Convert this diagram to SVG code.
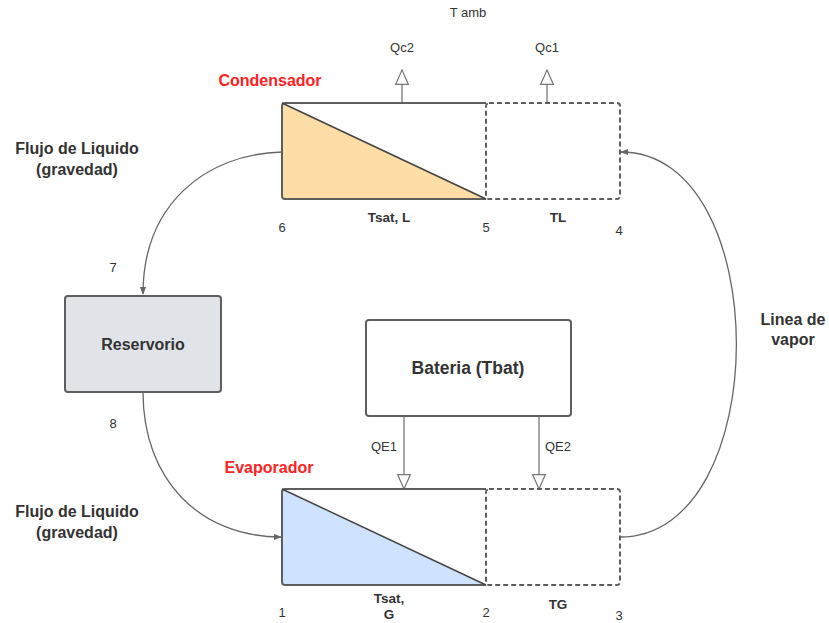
<svg xmlns="http://www.w3.org/2000/svg" width="829" height="623" viewBox="0 0 829 623">
<defs>
<style>
text{font-family:"Liberation Sans",Arial,sans-serif;fill:#333;text-anchor:middle}
.b{font-weight:bold}
.lbl{font-size:16px;font-weight:bold}
.num{font-size:13px}
.red{fill:#f22;font-size:16px;font-weight:bold}
.box{stroke:#5e5e5e;stroke-width:2}
.dash{fill:none;stroke:#5e5e5e;stroke-width:2;stroke-dasharray:5,3}
.con{fill:none;stroke:#666;stroke-width:1.3}
.q{fill:none;stroke:#777;stroke-width:1.3}
</style>
<marker id="ah" viewBox="0 0 10 10" refX="9" refY="5" markerWidth="8" markerHeight="8" markerUnits="userSpaceOnUse" orient="auto"><path d="M0,1 L10,5 L0,9 Z" fill="#666"/></marker>
<marker id="hol" viewBox="0 0 20 20" refX="19" refY="10" markerWidth="16" markerHeight="16" markerUnits="userSpaceOnUse" orient="auto"><path d="M1,2 L19,10 L1,18 Z" fill="#fff" stroke="#777" stroke-width="1.5"/></marker>
</defs>
<rect width="829" height="623" fill="#fff"/>
<g id="connectors">
<path class="con" d="M282,152 C205,154 143,205 143,294" marker-end="url(#ah)"/>
<path class="con" d="M143,392 C143,480 200,537 281,537" marker-end="url(#ah)"/>
<path class="con" d="M620,537 C775,537 775,152 621,152" marker-end="url(#ah)"/>
<path class="q" d="M402,103 V70" marker-end="url(#hol)"/>
<path class="q" d="M547,103 V70" marker-end="url(#hol)"/>
<path class="q" d="M404,416 V489" marker-end="url(#hol)"/>
<path class="q" d="M539,416 V489" marker-end="url(#hol)"/>
</g>
<g id="condensador">
<rect x="282" y="103" width="338" height="96" rx="3" fill="#fff" stroke="none"/>
<path d="M282,103 L486,198 L282,198 Z" fill="#ffdda6"/>
<rect class="dash" x="486" y="103" width="134" height="96" rx="3"/>
<path class="box" fill="none" d="M486,103 H285 Q282,103 282,106 V196 Q282,199 285,199 H486"/>
<line x1="282" y1="103" x2="486" y2="199" stroke="#444" stroke-width="1.5"/>
<text class="red" x="270" y="86">Condensador</text>
<text class="b" x="389" y="222" font-size="13.5">Tsat, L</text>
<text class="b" x="558" y="222" font-size="13.5">TL</text>
</g>
<g id="evaporador">
<rect x="282" y="489" width="338" height="96" rx="3" fill="#fff" stroke="none"/>
<path d="M282,489 L486,585 L282,585 Z" fill="#cfe2ff"/>
<rect class="dash" x="486" y="489" width="134" height="96" rx="3"/>
<path class="box" fill="none" d="M486,489 H285 Q282,489 282,492 V582 Q282,585 285,585 H486"/>
<line x1="282" y1="489" x2="486" y2="585" stroke="#444" stroke-width="1.5"/>
<text class="red" x="269" y="473">Evaporador</text>
<text class="b" x="389" y="603" font-size="13.5">Tsat,</text>
<text class="b" x="389" y="619" font-size="13.5">G</text>
<text class="b" x="558" y="609" font-size="13.5">TG</text>
</g>
<g id="reservorio">
<rect x="65" y="296" width="156" height="96" rx="3" fill="#e0e3e8" stroke="#5e5e5e" stroke-width="2"/>
<text class="b" x="143" y="350" font-size="16">Reservorio</text>
</g>
<g id="bateria">
<rect x="366" y="320" width="205" height="96" rx="3" fill="#fff" stroke="#5e5e5e" stroke-width="2"/>
<text class="b" x="468" y="374" font-size="17.5">Bateria (Tbat)</text>
</g>
<g id="labels">
<text class="num" x="468" y="17">T amb</text>
<text class="num" x="402" y="52">Qc2</text>
<text class="num" x="547" y="52">Qc1</text>
<text class="num" x="384" y="451">QE1</text>
<text class="num" x="558" y="451">QE2</text>
<text class="lbl" x="77" y="154">Flujo de Liquido</text>
<text class="lbl" x="77" y="175">(gravedad)</text>
<text class="lbl" x="77" y="517">Flujo de Liquido</text>
<text class="lbl" x="77" y="538">(gravedad)</text>
<text class="lbl" x="793" y="325">Linea de</text>
<text class="lbl" x="793" y="345">vapor</text>
<text class="num" x="282" y="232">6</text>
<text class="num" x="486" y="232">5</text>
<text class="num" x="619" y="235">4</text>
<text class="num" x="113" y="272">7</text>
<text class="num" x="113" y="428">8</text>
<text class="num" x="282" y="617">1</text>
<text class="num" x="486" y="617">2</text>
<text class="num" x="619" y="620">3</text>
</g>
</svg>
